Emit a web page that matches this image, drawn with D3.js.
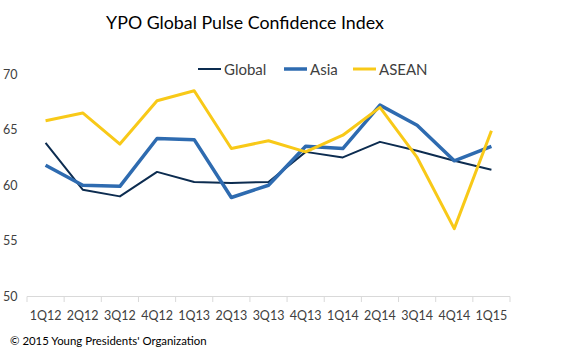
<!DOCTYPE html>
<html><head><meta charset="utf-8">
<script src="https://cdn.jsdelivr.net/npm/d3@7"></script>
<style>body{margin:0;background:#fff}svg{display:block}</style>
</head><body>
<svg id="c" width="570" height="357"></svg>
<script>
const categories = ["1Q12","2Q12","3Q12","4Q12","1Q13","2Q13","3Q13","4Q13","1Q14","2Q14","3Q14","4Q14","1Q15"];
const globalVals = [63.8,59.6,59.0,61.2,60.3,60.2,60.3,63.0,62.5,63.9,63.1,62.2,61.4];
const asiaVals   = [61.8,60.0,59.9,64.2,64.1,58.9,60.0,63.5,63.3,67.2,65.4,62.2,63.5];
const aseanVals  = [65.8,66.5,63.7,67.6,68.5,63.3,64.0,63.0,64.5,67.0,62.5,56.1,64.9];
const yTicks = [50,55,60,65,70];
const seriesNames = ["Global","Asia","ASEAN"];
const colors = ["#0c2c50","#2e6bb0","#f8c918"];
const widths = [2,3.5,3];

const svg = d3.select("#c");
const font = "Lato, 'Open Sans', sans-serif";
const x = d3.scaleBand().domain(categories).range([27,510]);
const y = d3.scaleLinear().domain([50,70]).range([296.5,74]);

svg.append("text").attr("x",245).attr("y",29).attr("text-anchor","middle")
  .attr("font-family",font).attr("font-size",17.8).attr("fill","#000")
  .text("YPO Global Pulse Confidence Index");

// y labels
svg.selectAll(".yl").data(yTicks).enter().append("text")
  .attr("x",3).attr("y",d=>y(d)+4.5).attr("font-family",font).attr("font-size",12.5)
  .attr("fill","#404040").text(d=>d);

// x axis
const xa = svg.append("g").attr("transform","translate(0,296.5)")
  .call(d3.axisBottom(x).tickSize(0).tickPadding(0));
xa.select(".domain").attr("stroke","#d9d9d9").attr("d","M27,0H510");
xa.selectAll(".tick text").attr("font-family",font).attr("font-size",12.5).attr("fill","#404040").attr("dy","23");
const bounds = categories.map(c=>x(c)).concat([x(categories[categories.length-1])+x.bandwidth()]);
svg.selectAll(".xt").data(bounds).enter().append("line")
  .attr("x1",d=>d).attr("x2",d=>d).attr("y1",296.5).attr("y2",302).attr("stroke","#d9d9d9");

const line = d3.line().x((d,i)=>x(categories[i])+x.bandwidth()/2).y(d=>y(d));
[globalVals,asiaVals,aseanVals].forEach((vals,i)=>{
  svg.append("path").datum(vals).attr("d",line).attr("fill","none")
    .attr("stroke",colors[i]).attr("stroke-width",widths[i]).attr("stroke-linejoin","round");
});

// legend
const legX = [198,284,353];
seriesNames.forEach((n,i)=>{
  svg.append("line").attr("x1",legX[i]).attr("x2",legX[i]+23).attr("y1",69).attr("y2",69)
    .attr("stroke",colors[i]).attr("stroke-width",widths[i]);
  svg.append("text").attr("x",legX[i]+26).attr("y",74.5).attr("font-family",font)
    .attr("font-size",15).attr("fill","#404040").text(n);
});

svg.append("text").attr("x",10).attr("y",345).attr("font-family",font).attr("font-size",11.4)
  .attr("fill","#000").text("© 2015 Young Presidents' Organization");
</script>
</body></html>
